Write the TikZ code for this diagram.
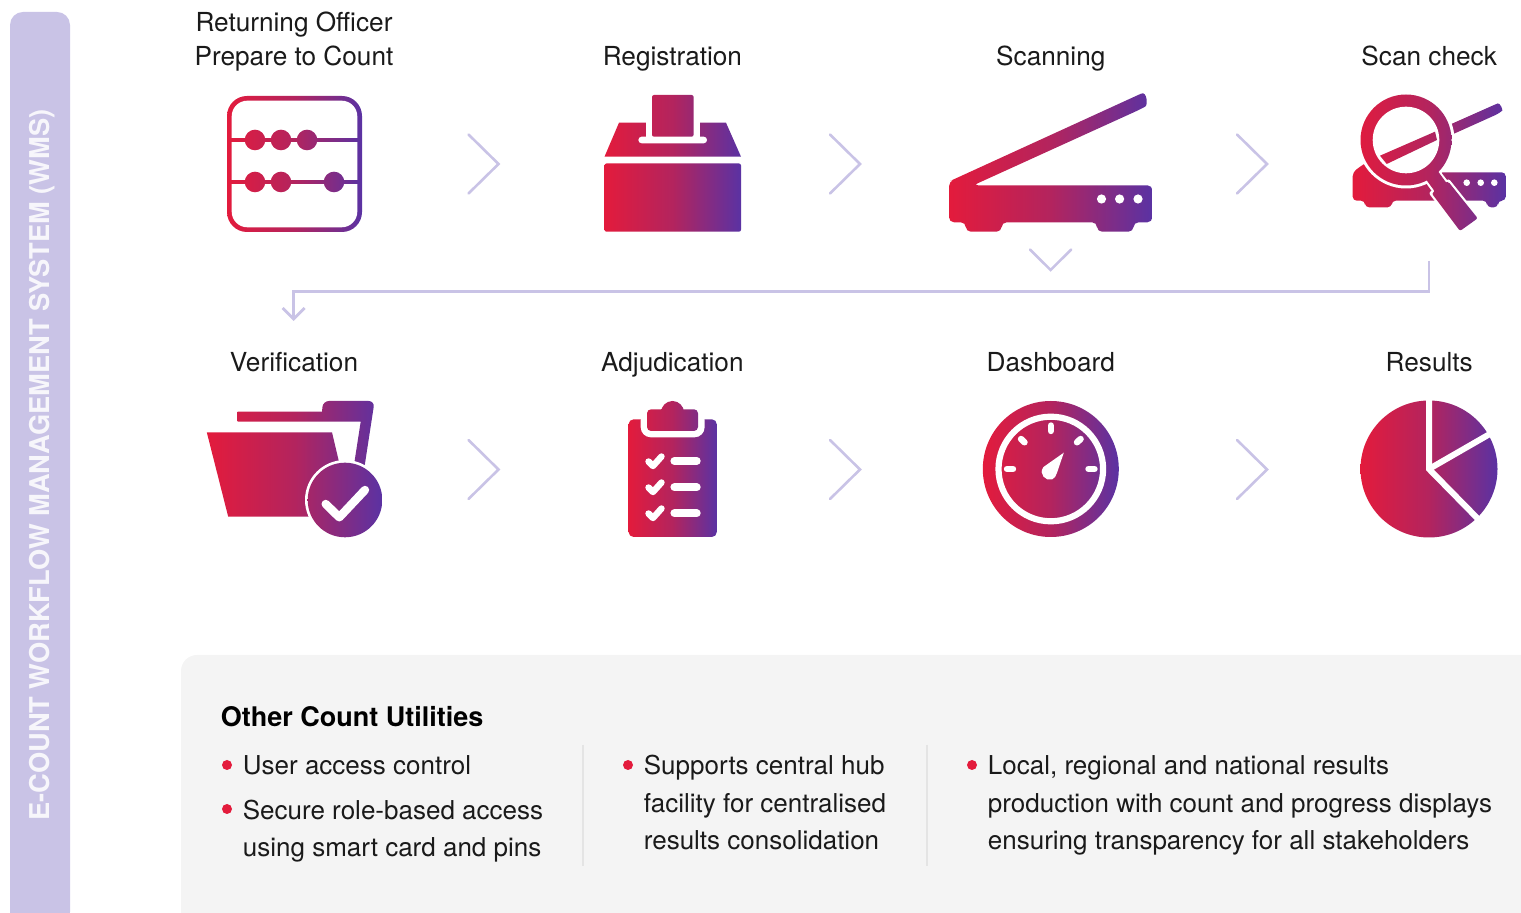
\documentclass[tikz,border=0pt]{standalone}
\usepackage{fontspec}
\setmainfont{TeX Gyre Heros}
\usetikzlibrary{positioning,calc,arrows.meta}
\definecolor{iconred}{HTML}{E31B3C}
\definecolor{iconmid}{HTML}{B3245E}
\definecolor{iconpurple}{HTML}{5A32A3}
\definecolor{barlilac}{HTML}{C9C3E6}
\definecolor{panelgrey}{HTML}{F4F4F4}
\definecolor{panelrule}{HTML}{E4E4E4}
\definecolor{inktext}{HTML}{1A1A1A}

\begin{document}
\begin{tikzpicture}[
				x=0.5pt, y=-0.5pt,
				iconspot/.style={rectangle, inner sep=0pt, outer sep=0pt, minimum size=68pt},
				steplabel/.style={align=center, inner sep=0pt, outer sep=0pt, text depth=0pt, text=inktext, font=\fontsize{13.1}{17}\selectfont},
				bullettext/.style={anchor=base west, align=left, inner sep=0pt, text=inktext, font=\fontsize{13}{18.75}\selectfont},
				headtext/.style={anchor=base west, inner sep=0pt, text=black, font=\fontsize{13.5}{16}\selectfont\bfseries},
				sidetext/.style={rotate=90, inner sep=0pt, text=white!85!barlilac, font=\fontsize{13.64}{16}\selectfont\bfseries},
				bulletdot/.style={circle, fill=iconred, inner sep=0pt, minimum size=5pt},
				chevron/.style={draw=barlilac, line width=1.3pt, line cap=round},
				flowline/.style={draw=barlilac, line width=1.4pt, -{Straight Barb[length=5.5pt,width=11pt]}},
				dividerline/.style={draw=panelrule, line width=0.6pt},
				iconshade/.style={left color=iconred, right color=iconpurple, middle color=iconmid},
				iconpaint/.style n args={2}{path picture={\shade[iconshade] (#1,0) rectangle (#2,913);}},
				whitemark/.style={draw=white, line width=3.5pt, line cap=round, line join=round}
			]
			\useasboundingbox (0,0) rectangle (1521,913);
			\fill[barlilac, rounded corners=6.5pt] (10,12) rectangle (70,925);
			\fill[panelgrey, rounded corners=8pt] (181,655) rectangle (1560,960);
			\node[sidetext] (wmslabel) at (42,465) {E-COUNT WORKFLOW MANAGEMENT SYSTEM (WMS)};

			\node[iconspot] (abacus) at (294,164) {};
			\node[iconspot] (ballot) [right=121.2pt of abacus] {};
			\node[iconspot] (scanner) [right=121.2pt of ballot] {};
			\node[iconspot] (scancheck) [right=121.2pt of scanner] {};
			\node[iconspot] (folder) [below=84.5pt of abacus] {};
			\node[iconspot] (clipboard) [right=121.2pt of folder] {};
			\node[iconspot] (gauge) [right=121.2pt of clipboard] {};
			\node[iconspot] (piechart) [right=121.2pt of gauge] {};

			\node[steplabel] (returning) [above=15pt of abacus] {Returning Officer\\Prepare to Count};
			\node[steplabel] (registration) [above=15pt of ballot] {Registration};
			\node[steplabel] (scanning) [above=15pt of scanner] {Scanning};
			\node[steplabel] (scanchecklabel) [above=15pt of scancheck] {Scan check};
			\node[steplabel] (verification) [above=14.5pt of folder] {Verification};
			\node[steplabel] (adjudication) [above=14.5pt of clipboard] {Adjudication};
			\node[steplabel] (dashboard) [above=14.5pt of gauge] {Dashboard};
			\node[steplabel] (results) [above=14.5pt of piechart] {Results};

			\coordinate (tipA) at (498.5,164);
			\coordinate (tipB) at (860,164);
			\coordinate (tipC) at (1267,164);
			\coordinate (tipD) at (498.5,469.5);
			\coordinate (tipE) at (860,469.5);
			\coordinate (tipF) at (1267,469.5);
			\coordinate (tipG) at (1050.6,270);
			\draw[chevron] ([shift={(-30,-29.5)}]tipA) -- (tipA) -- ([shift={(-30,29.5)}]tipA);
			\draw[chevron] ([shift={(-30,-29.5)}]tipB) -- (tipB) -- ([shift={(-30,29.5)}]tipB);
			\draw[chevron] ([shift={(-30,-29.5)}]tipC) -- (tipC) -- ([shift={(-30,29.5)}]tipC);
			\draw[chevron] ([shift={(-30,-29.5)}]tipD) -- (tipD) -- ([shift={(-30,29.5)}]tipD);
			\draw[chevron] ([shift={(-30,-29.5)}]tipE) -- (tipE) -- ([shift={(-30,29.5)}]tipE);
			\draw[chevron] ([shift={(-30,-29.5)}]tipF) -- (tipF) -- ([shift={(-30,29.5)}]tipF);
			\draw[chevron] ([shift={(-20.6,-20.5)}]tipG) -- (tipG) -- ([shift={(20.6,-20.5)}]tipG);

			\coordinate (scanout) at (1429,261);
			\coordinate (flowleft) at (293.7,291.8);
			\coordinate (verifyin) at (293.7,321);
			\draw[flowline] (scanout) |- (flowleft) -- (verifyin);

			\path[iconpaint={227}{362}, rounded corners=10pt] (227,96) rectangle (362,232);
			\fill[white, rounded corners=7.8pt] (231.7,100.7) rectangle (357.3,227.3);
			\path[iconpaint={227}{362}] (231,138.6) rectangle (358,141.4);
			\path[iconpaint={227}{362}] (231,180.6) rectangle (358,183.4);
			\path[iconpaint={227}{362}] (255,140) circle (10.3);
			\path[iconpaint={227}{362}] (281,140) circle (10.3);
			\path[iconpaint={227}{362}] (307,140) circle (10.3);
			\path[iconpaint={227}{362}] (255,182) circle (10.3);
			\path[iconpaint={227}{362}] (281,182) circle (10.3);
			\path[iconpaint={227}{362}] (334,182) circle (10.3);

			\path[iconpaint={604.5}{741}, rounded corners=1pt] (604.5,163.5) rectangle (741,231.7);
			\path[iconpaint={604.5}{741}] (604.5,156.7) -- (619,122.7) -- (726,122.7) -- (741,156.7) -- cycle;
			\fill[white] (645.6,120) rectangle (700,140);
			\fill[white, rounded corners=1.6pt] (638.4,136.7) rectangle (707,143.3);
			\path[iconpaint={604.5}{741}, rounded corners=1pt] (652,95) rectangle (693.6,136.7);

			\path[iconpaint={949}{1152.4}, rounded corners=2.5pt] (949,200) -- (949,181.5) -- (954.5,179) -- (1136.6,95.7)
				.. controls (1147,91) and (1148,105) .. (1141,109) -- (973.3,185.3) -- (1152.4,185.3) -- (1152.4,222.3)
				-- (1133.5,222.3) -- (1133.5,231.7) -- (1097,231.7) -- (1097,222.3) -- (1001.6,222.3) -- (1001.6,231.7)
				-- (965.8,231.7) -- (965.8,222.3) -- (949,222.3) -- cycle;
			\fill[white] (1101.5,199) circle (4.6);
			\fill[white] (1119.6,199) circle (4.6);
			\fill[white] (1138,199) circle (4.6);

			\path[iconpaint={1352.7}{1505.7}, rounded corners=2pt] (1352.7,200.7) -- (1352.7,172.3) -- (1363.3,164.3) -- (1380,155.7) -- (1494,105)
				.. controls (1500,102.5) and (1503,110) .. (1499.3,113.3) -- (1386.7,164) -- (1386.7,172.3) -- (1505.7,172.3) -- (1505.7,200.7)
				-- (1498,200.7) -- (1498,207.3) -- (1487,207.3) -- (1487,200.7) -- (1391.7,200.7) -- (1391.7,207.3) -- (1365,207.3) -- (1365,200.7) -- cycle;
			\fill[white] (1406,140) circle (48.5);
			\fill[white] (1466.7,182.7) circle (3.3);
			\fill[white] (1480.7,182.7) circle (3.3);
			\fill[white] (1494.3,182.7) circle (3.3);
			\draw[white, line width=2.2pt, line join=round, fill=white] (1427.3,181) -- (1435,191.7) -- (1431.7,193.3) -- (1460,231) -- (1477.7,218.3) -- (1448.3,181.7) -- (1446.7,183.3) -- (1439,173.3) -- cycle;
			\path[iconpaint={1352.7}{1505.7}] (1406,140) circle (45.5);
			\fill[white] (1406,140) circle (33.3);
			\path[iconpaint={1352.7}{1505.7}] (1380,155.7) -- (1435,131.7) -- (1437,140) -- (1386.7,164) -- cycle;
			\path[iconpaint={1352.7}{1505.7}, rounded corners=1pt] (1425,178) -- (1435,191.7) -- (1431.7,193.3) -- (1460,231) -- (1477.7,218.3) -- (1448.3,181.7) -- (1446.7,183.3) -- (1437,170) -- cycle;

			\path[iconpaint={206.8}{382.5}] (206.8,432.3) -- (332,432.3) -- (348,500) -- (320,516.7) -- (228.2,516.7) -- cycle;
			\path[iconpaint={206.8}{382.5}] (237.5,421.7) -- (237.5,411.7) -- (322,411.7) [rounded corners=3pt] -- (323,401) -- (374.6,401) -- (364,470) [sharp corners] -- (353.2,470) -- (360.7,421.7) -- cycle;
			\fill[white] (345,500) circle (40);
			\path[iconpaint={206.8}{382.5}] (345,500) circle (37.3);
			\draw[whitemark, line width=4.2pt] (325.7,504) -- (339.3,517.3) -- (365,490);

			\path[iconpaint={628.6}{716.8}, rounded corners=2.5pt] (628.6,419.3) rectangle (716.8,537);
			\fill[white, rounded corners=5pt] (640.7,410) rectangle (704.6,437.3);
			\path[iconpaint={628.6}{716.8}, rounded corners=2pt] (647,409.3) rectangle (698,431);
			\path[iconpaint={628.6}{716.8}] (672.5,412.5) circle (11.5);
			\draw[whitemark, line width=3.2pt] (648.5,461.5) -- (653,466) -- (661.5,456.5);
			\draw[whitemark, line width=3.2pt] (648.5,487.5) -- (653,492) -- (661.5,482.5);
			\draw[whitemark, line width=3.2pt] (648.5,513.5) -- (653,518) -- (661.5,508.5);
			\draw[whitemark, line width=4pt] (674.4,461) -- (696.7,461);
			\draw[whitemark, line width=4pt] (674.4,487.3) -- (696.7,487.3);
			\draw[whitemark, line width=4pt] (674.4,513.3) -- (696.7,513.3);

			\path[iconshade] (1050.8,469) circle (68);
			\draw[white, line width=3.1pt] (1050.8,469) circle (52.3);
			\draw[whitemark, line width=3.2pt] (1050.8,425.5) -- (1050.8,431);
			\draw[whitemark, line width=3.2pt] (1007,469) -- (1013,469);
			\draw[whitemark, line width=3.2pt] (1088.5,469) -- (1094.5,469);
			\draw[whitemark, line width=3.2pt] (1021,439) -- (1024.5,442.3);
			\draw[whitemark, line width=3.2pt] (1080.6,439) -- (1077,442.3);
			\fill[white] (1063.8,452.7) -- (1043.5,467) .. controls (1038,474) and (1046,481.5) .. (1052,479.5) .. controls (1054.5,478.5) and (1056,476) .. (1056.8,473.3) -- cycle;

			\path[iconshade] (1429,469) circle (68.5);
			\draw[white, line width=3pt] (1429,395) -- (1429,469) -- (1483,524);
			\draw[white, line width=3pt] (1429,469) -- (1495,431);

			\node[headtext] (utilhead) at (220.5,727) {Other Count Utilities};
			\node[bullettext] (useraccess) at (242.5,775) {User access control};
			\node[bullettext] (secureaccess) at (242.5,856.5) {Secure role-based access\\using smart card and pins};
			\node[bullettext] (centralhub) at (643.5,849.5) {Supports central hub\\facility for centralised\\results consolidation};
			\node[bullettext] (localresults) at (987.5,849.5) {Local, regional and national results\\production with count and progress displays\\ensuring transparency for all stakeholders};
			\node[bulletdot] (dotuser) at (227,765) {};
			\node[bulletdot] (dotsecure) at (227,809) {};
			\node[bulletdot] (dothub) at (628,765) {};
			\node[bulletdot] (dotlocal) at (972,765) {};
			\coordinate (ruleAtop) at (583,745);
			\coordinate (ruleAend) at (583,866);
			\coordinate (ruleBtop) at (927,745);
			\coordinate (ruleBend) at (927,866);
			\draw[dividerline] (ruleAtop) -- (ruleAend);
			\draw[dividerline] (ruleBtop) -- (ruleBend);
			\end{tikzpicture}
\end{document}
